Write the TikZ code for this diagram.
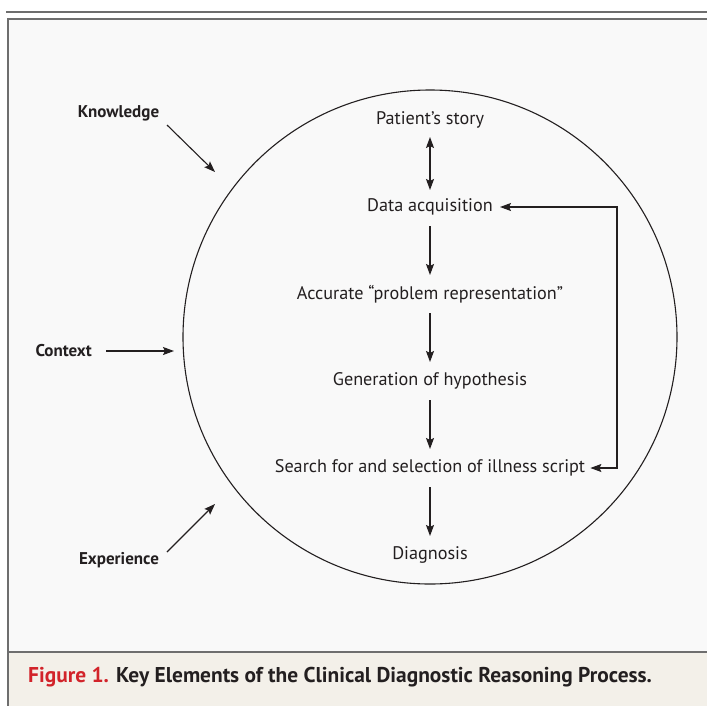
\documentclass[tikz,border=0pt]{standalone}
\usepackage{fontspec}
\setmainfont{PT Sans}
\usetikzlibrary{arrows.meta}
\definecolor{boxfill}{HTML}{F9F9F9}
\definecolor{capfill}{HTML}{F3F0E9}
\definecolor{frame}{HTML}{6E6E6E}
\definecolor{ink}{HTML}{231F20}
\definecolor{figred}{HTML}{D2232A}
\begin{document}
\begin{tikzpicture}[x=1pt,y=-1pt,
  every node/.style={text=ink, inner sep=3pt},
  stepnode/.style={font=\fontsize{18.2}{21}\selectfont},
  sidelabel/.style={font=\bfseries\fontsize{17}{20}\selectfont},
  arr/.style={draw=ink, line width=1.1pt, -{Stealth[length=11pt,width=8pt,inset=2pt]}},
  darr/.style={draw=ink, line width=1.1pt, {Stealth[length=11pt,width=8pt,inset=2pt]}-{Stealth[length=11pt,width=8pt,inset=2pt]}},
]
\useasboundingbox (0,0) rectangle (707,705);
% frame
\fill[white] (0,0) rectangle (707,705);
\draw[frame, line width=1.6pt] (6,12) -- (707,12);
\fill[boxfill] (8,19) rectangle (712,652);
\fill[capfill] (8,652) rectangle (712,712);
\draw[frame, line width=1.8pt] (8,712) -- (8,19) -- (712,19);
\draw[frame, line width=1.8pt] (8,652) -- (712,652);
% circle
\node[circle, draw=ink, line width=1.1pt, minimum size=494pt, inner sep=0pt] (circ) at (430,337) {};
% steps
\node[stepnode] (ps) at (430,120) {Patient’s story};
\node[stepnode] (da) at (430,207) {Data acquisition};
\node[stepnode] (apr) at (430,294) {Accurate “problem representation”};
\node[stepnode] (gh) at (430,381) {Generation of hypothesis};
\node[stepnode] (ss) at (430,468) {Search for and selection of illness script};
\node[stepnode] (dg) at (430,555) {Diagnosis};
\draw[darr, shorten <=17pt, shorten >=17pt] (ps.center) -- (da.center);
\draw[arr, shorten <=19pt, shorten >=19pt] (da.center) -- (apr.center);
\draw[arr, shorten <=19pt, shorten >=19pt] (apr.center) -- (gh.center);
\draw[arr, shorten <=19pt, shorten >=19pt] (gh.center) -- (ss.center);
\draw[arr, shorten <=19pt, shorten >=19pt] (ss.center) -- (dg.center);
% feedback loop
\coordinate (fb) at (617,0);
\draw[darr, line join=miter, shorten <=4pt, shorten >=2pt] (da.east) -- (da.east -| fb) -- (ss.east -| fb) -- (ss.east);
% side labels
\node[sidelabel] (kn) at (118.5,113) {Knowledge};
\node[sidelabel, anchor=east] (cx) at (95,351) {Context};
\node[sidelabel] (ex) at (119,560) {Experience};
\coordinate (knA) at (167,125);
\coordinate (knB) at (215,172);
\coordinate (cxA) at (106,351);
\coordinate (cxB) at (174,351);
\coordinate (exA) at (167,552);
\coordinate (exB) at (215,504);
\draw[arr] (knA) -- (knB);
\draw[arr] (cxA) -- (cxB);
\draw[arr] (exA) -- (exB);
% caption
\node[anchor=west, font=\bfseries\fontsize{21.4}{25}\selectfont, inner sep=0pt] (cap) at (28,677) {\textcolor{figred}{Figure 1.} Key Elements of the Clinical Diagnostic Reasoning Process.};
\end{tikzpicture}
\end{document}
